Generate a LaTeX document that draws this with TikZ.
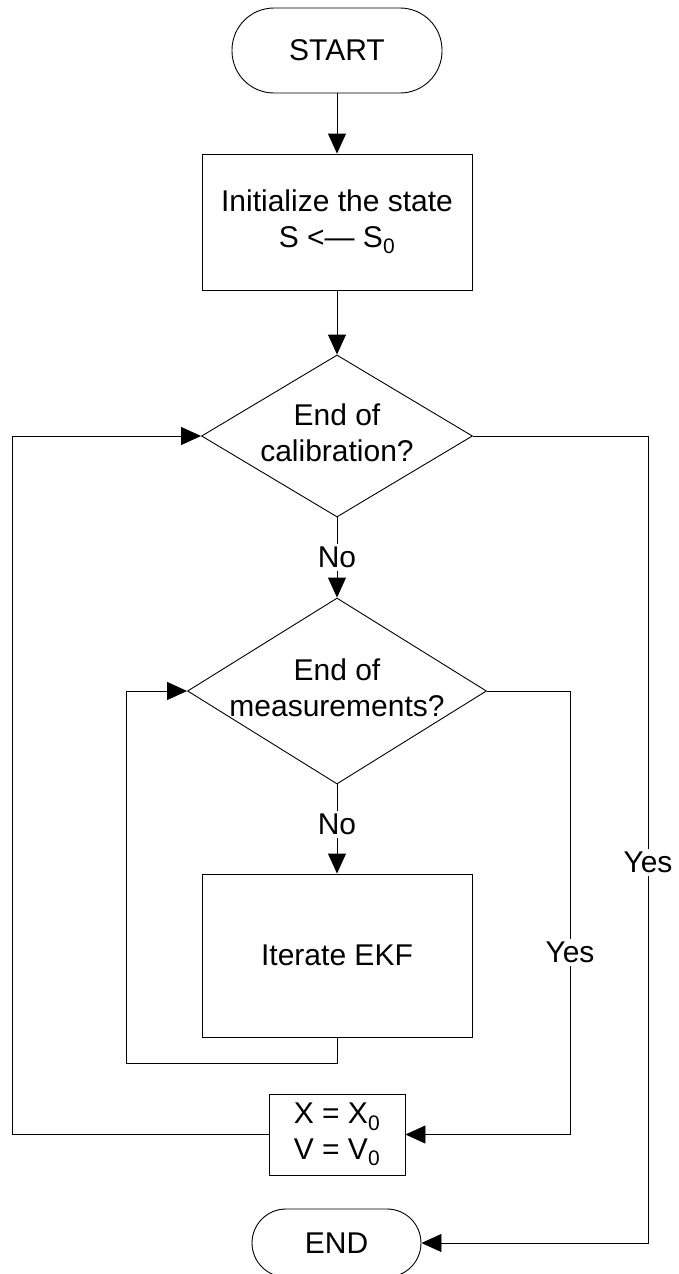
\documentclass[tikz,border=0pt]{standalone}
\usepackage{fontspec}
\setmainfont{Liberation Sans}
\usetikzlibrary{shapes.geometric,arrows.meta}

\begin{document}
\begin{tikzpicture}[x=1pt,y=-1pt,
  every node/.style={font=\fontsize{30}{35.5}\selectfont},
  outline/.style={draw=black,line width=0.9pt,fill=white},
  terminal/.style={outline,rectangle,inner sep=0pt},
  process/.style={outline,rectangle,align=center,inner sep=0pt},
  decision/.style={outline,diamond,inner sep=0pt},
  txt/.style={align=center,inner sep=0pt},
  lbl/.style={fill=white,inner sep=3pt},
  flow/.style={draw=black,line width=0.9pt,-{Triangle[length=20pt,width=18pt]}},
  wire/.style={draw=black,line width=0.9pt}]

\useasboundingbox (0,0) rectangle (678,1274);

% blocks
\node[terminal,minimum width=210pt,minimum height=85pt,rounded corners=42pt] (start) at (337,50.5) {START};
\node[process,minimum width=270pt,minimum height=136pt] (init) at (337,222)
  {Initialize the state\\S <— S\textsubscript{0}};
\node[decision,minimum width=271pt,minimum height=162pt] (d1) at (337,436) {};
\node[txt] at (337,433) {End of\\calibration?};
\node[decision,minimum width=299pt,minimum height=186pt] (d2) at (337,691) {};
\node[txt] at (337,688) {End of\\measurements?};
\node[process,minimum width=270pt,minimum height=163pt] (iter) at (337,955.5) {Iterate EKF};
\node[process,minimum width=136pt,minimum height=81pt] (reset) at (337,1134.5)
  {X = X\textsubscript{0}\\V = V\textsubscript{0}};
\node[terminal,minimum width=169pt,minimum height=68pt,rounded corners=34pt] (end) at (336.5,1243) {END};

% corner points of the loops
\coordinate (innerlow) at (126,1063);
\coordinate (outerleft) at (12,1134.5);
\coordinate (outerright) at (648,436);
\coordinate (innerright) at (570,691);

% main flow
\draw[flow] (start) -- (init);
\draw[flow] (init) -- (d1);
\draw[flow] (d1) -- node[lbl] {No} (d2);
\draw[flow] (d2) -- node[lbl,pos=0.45] {No} (iter);

% inner loop: iterate until the measurements are used up
\draw[flow] (iter.south) |- (innerlow) |- (d2.west);
\draw[flow] (d2.east) -- (innerright) |- node[lbl,pos=0.295] {Yes} (reset.east);

% outer loop: restart with the reset state
\draw[flow] (reset.west) -- (outerleft) |- (d1.west);
\draw[flow] (d1.east) -- (outerright) |- node[lbl,pos=0.264] {Yes} (end.east);

\end{tikzpicture}
\end{document}
